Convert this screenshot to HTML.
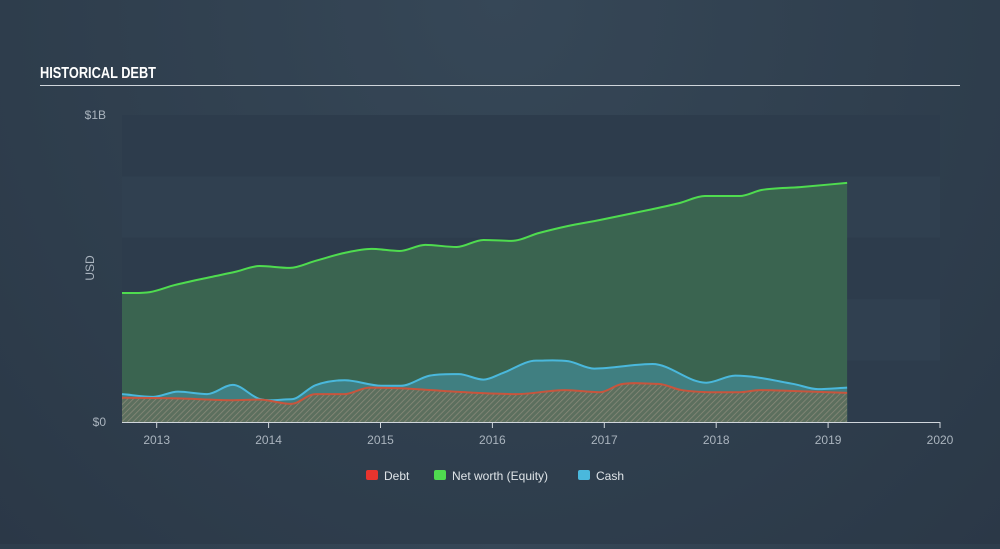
<!DOCTYPE html>
<html><head><meta charset="utf-8"><style>
body{margin:0;width:1000px;height:544px;background:radial-gradient(ellipse at 50% 0%,#364757 0%,#2e3d4c 70%,#2b3847 100%);font-family:"Liberation Sans",sans-serif;overflow:hidden}
</style></head><body>
<svg width="1000" height="544" xmlns="http://www.w3.org/2000/svg">
<defs>
<pattern id="hatch" width="4" height="4" patternUnits="userSpaceOnUse" patternTransform="rotate(45)">
<rect width="4" height="4" fill="#5c6f5e"/><line x1="0" y1="0" x2="0" y2="4" stroke="#8a8a7a" stroke-width="1.5"/>
</pattern>
</defs>
<text x="40" y="78" fill="#fff" font-size="16" font-weight="bold" textLength="116" lengthAdjust="spacingAndGlyphs">HISTORICAL DEBT</text>
<line x1="40" y1="85.5" x2="960" y2="85.5" stroke="#cfd5db" stroke-width="1"/>
<g id="bands"></g>
<g id="series"></g>
<g id="axes"></g>
<text x="0" y="0" transform="translate(94,268) rotate(-90)" fill="#aab4be" font-size="12" text-anchor="middle">USD</text>
<g>
<rect x="366" y="470" width="12" height="10" rx="2" fill="#e8342e"/>
<text x="384" y="480" fill="#dfe4e8" font-size="12">Debt</text>
<rect x="434" y="470" width="12" height="10" rx="2" fill="#4fdc4f"/>
<text x="452" y="480" fill="#dfe4e8" font-size="12">Net worth (Equity)</text>
<rect x="578" y="470" width="12" height="10" rx="2" fill="#4ab8dc"/>
<text x="596" y="480" fill="#dfe4e8" font-size="12">Cash</text>
</g>
</svg>
<script>
const xTicks=[2013,2014,2015,2016,2017,2018,2019,2020];
const yTickLabels=["$0","$1B"];
const equityT=[2012.69,2012.94,2013.16,2013.48,2013.70,2013.92,2014.19,2014.42,2014.68,2014.92,2015.17,2015.40,2015.68,2015.92,2016.17,2016.42,2016.67,2016.96,2017.40,2017.67,2017.90,2018.21,2018.41,2018.75,2019.17];
const equityV=[420,423,446,472,489,508,502,525,551,564,557,577,570,593,590,616,638,658,691,713,736,736,756,765,779];
const cashT=[2012.69,2012.97,2013.19,2013.45,2013.68,2013.92,2014.20,2014.42,2014.68,2015.01,2015.18,2015.44,2015.70,2015.92,2016.09,2016.39,2016.68,2016.91,2017.43,2017.91,2018.17,2018.69,2018.91,2019.17];
const cashV=[91,82,99,91,121,75,74,120,136,118,118,151,156,138,159,200,198,174,189,128,151,124,107,112];
const debtT=[2012.69,2013.19,2013.68,2013.92,2014.20,2014.42,2014.68,2014.90,2015.18,2015.70,2016.22,2016.65,2016.96,2017.15,2017.48,2017.69,2018.21,2018.39,2018.69,2019.17];
const debtV=[79,77,71,73,59,91,91,112,110,98,91,104,97,123,124,104,97,104,101,95];

const X0=122,X1=940,Y0=422,Y1=115,T0=2012.69,T1=2020,VMAX=1000;
const xs=t=>X0+(t-T0)/(T1-T0)*(X1-X0);
const ys=v=>Y0-v/VMAX*(Y0-Y1);
const NS="http://www.w3.org/2000/svg";
function mk(tag,attrs,parent){const e=document.createElementNS(NS,tag);for(const k in attrs)e.setAttribute(k,attrs[k]);parent.appendChild(e);return e;}
function smooth(T,V){
  const p=T.map((t,i)=>[xs(t),ys(V[i])]);const n=p.length;
  const d=[],m=[];
  for(let i=0;i<n-1;i++)d.push((p[i+1][1]-p[i][1])/(p[i+1][0]-p[i][0]));
  for(let i=0;i<n;i++){if(i==0)m.push(d[0]);else if(i==n-1)m.push(d[n-2]);else m.push(d[i-1]*d[i]<=0?0:(d[i-1]+d[i])/2);}
  let s="M"+p[0][0]+","+p[0][1];
  for(let i=0;i<n-1;i++){const h=(p[i+1][0]-p[i][0])/3;s+=" C"+(p[i][0]+h)+","+(p[i][1]+m[i]*h)+" "+(p[i+1][0]-h)+","+(p[i+1][1]-m[i+1]*h)+" "+p[i+1][0]+","+p[i+1][1];}
  return {d:s,x0:p[0][0],x1:p[n-1][0]};
}
const bands=document.getElementById('bands');
for(let i=0;i<5;i++){
  const r=mk('rect',{x:X0,y:Y1+i*(Y0-Y1)/5,width:X1-X0,height:(Y0-Y1)/5,fill:i%2==0?'#2d3c4c':'#304050'},bands);
  
  
}
const g=document.getElementById('series');
function area(T,V,fill,stroke,name){
  const s=smooth(T,V);
  const a=mk('path',{d:s.d+" L"+s.x1+","+Y0+" L"+s.x0+","+Y0+"Z",fill:fill},g);
  
  
  const l=mk('path',{d:s.d,fill:'none',stroke:stroke,'stroke-width':2},g);
  
  
}
area(equityT,equityV,'#3a6450','#4fdc4f','equity');
area(cashT,cashV,'rgba(70,150,170,0.55)','#4ab8dc','cash');
area(debtT,debtV,'url(#hatch)','#c8553d','debt');
const ax=document.getElementById('axes');
const bl=mk('line',{x1:X0,y1:Y0+0.5,x2:X1,y2:Y0+0.5,stroke:'#d0d6dc','stroke-width':1},ax);


xTicks.forEach(t=>{
  const x=xs(t);
  const tk=mk('line',{x1:x,y1:Y0,x2:x,y2:Y0+6,stroke:'#d0d6dc'},ax);
  
  
  const tx=mk('text',{x:x,y:Y0+22,fill:'#aab4be','font-size':12,'text-anchor':'middle'},ax);
  tx.textContent=t;
  
  
});
yTickLabels.forEach((lab,i)=>{
  const tx=mk('text',{x:106,y:(i==0?Y0+4:Y1+4),fill:'#aab4be','font-size':12,'text-anchor':'end'},ax);
  tx.textContent=lab;
  
  
});
</script>
</body></html>
